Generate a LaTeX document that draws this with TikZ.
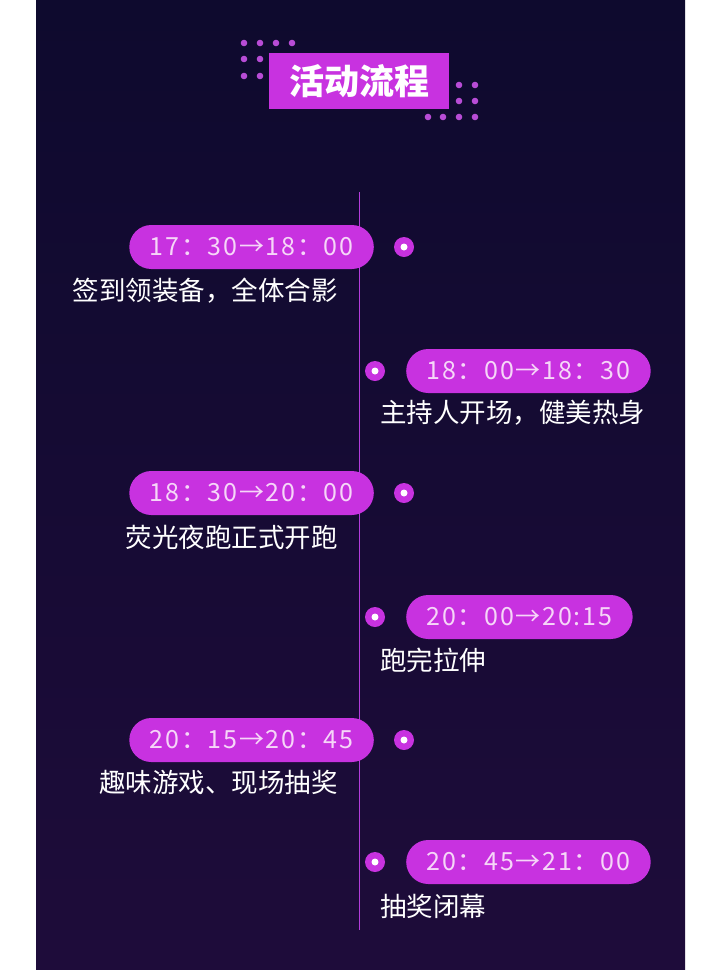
\documentclass[tikz,border=0pt]{standalone}
\usepackage{fontspec}
\setmainfont{Noto Sans CJK SC}
\newfontfamily\timefont[LetterSpace=7]{Noto Sans CJK SC}
\usepackage{tikz}
\usetikzlibrary{positioning}
\definecolor{bgtop}{HTML}{0E0A2E}
\definecolor{bgbot}{HTML}{1E0C3A}
\definecolor{pillpurple}{HTML}{C832E0}
\definecolor{dotpurple}{HTML}{B84CD6}
\definecolor{linepurple}{HTML}{B43CDC}
\definecolor{pilltext}{HTML}{F6D6F8}
\tikzset{
    pill/.style={fill=pillpurple, rounded corners=22pt, minimum height=44pt, inner ysep=0pt, inner xsep=20.5pt,
        text=pilltext, font=\timefont\fontsize{25}{25}\selectfont},
    desc/.style={text=white, inner sep=0pt, font=\fontsize{26.5}{26.5}\selectfont},
    bullet/.style={circle, fill=pillpurple, minimum size=20pt, inner sep=0pt,
        path picture={\fill[white] (path picture bounding box.center) circle (3.5pt);}},
    deco/.style={fill=dotpurple},
}

\begin{document}
\begin{tikzpicture}[x=1pt, y=-1pt]
    % white margins and dark backdrop
    \fill[white] (0,0) rectangle (720,970);
    \shade[top color=bgtop, bottom color=bgbot] (36,0) rectangle (685,970);

    % title with dot patterns
    \node[fill=pillpurple, minimum width=180pt, minimum height=56pt, text=white,
        font=\bfseries\fontsize{35}{35}\selectfont] (title) at (359,81) {活动流程};
    \foreach \x in {244,260,276,292} \fill[deco] (\x,43) circle (3.3pt);
    \foreach \x in {244,260} {\fill[deco] (\x,59) circle (3.3pt); \fill[deco] (\x,76) circle (3.3pt);}
    \foreach \x in {459,475} {\fill[deco] (\x,85) circle (3.3pt); \fill[deco] (\x,101) circle (3.3pt);}
    \foreach \x in {428,443,459,475} \fill[deco] (\x,117) circle (3.3pt);

    % timeline
    \coordinate (ltop) at (359,192);
    \coordinate (lbot) at (359,930);
    \draw[linepurple, line width=1pt] (ltop) -- (lbot);

    % left / right entries
    \node[pill, anchor=east] (t1) at (374,247) {17：30→18：00};
    \node[bullet] (b1) at (404,247) {};
    \node[desc, anchor=east] (d1) at (338,291) {签到领装备，全体合影};

    \node[bullet] (b2) at (375,371) {};
    \node[pill, anchor=west] (t2) at (406,371) {18：00→18：30};
    \node[desc, anchor=west] (d2) at (380,413) {主持人开场，健美热身};

    \node[pill, anchor=east] (t3) at (374,493) {18：30→20：00};
    \node[bullet] (b3) at (404,493) {};
    \node[desc, anchor=east] (d3) at (338,537) {荧光夜跑正式开跑};

    \node[bullet] (b4) at (375,617) {};
    \node[pill, anchor=west] (t4) at (406,617) {20：00→20:15};
    \node[desc, anchor=west] (d4) at (380,660) {跑完拉伸};

    \node[pill, anchor=east] (t5) at (374,740) {20：15→20：45};
    \node[bullet] (b5) at (404,740) {};
    \node[desc, anchor=east] (d5) at (338,782) {趣味游戏、现场抽奖};

    \node[bullet] (b6) at (375,862) {};
    \node[pill, anchor=west] (t6) at (406,862) {20：45→21：00};
    \node[desc, anchor=west] (d6) at (380,906) {抽奖闭幕};
\end{tikzpicture}
\end{document}
